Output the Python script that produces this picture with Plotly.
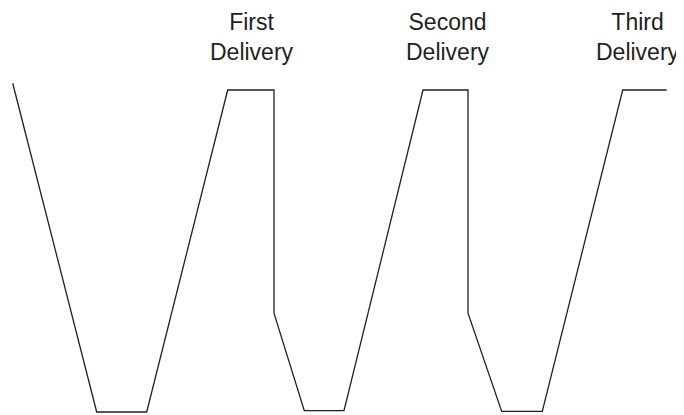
import plotly.graph_objects as go

# Inventory level over time (time in arbitrary units, inventory in % of max)
time = [12.7, 96.7, 146.7, 227.7, 274.0, 274.0, 304.3, 344.0, 423.0,
        468.0, 468.0, 501.7, 542.3, 622.7, 666.7]
inventory = [102.1, 0.0, 0.0, 100.0, 100.0, 30.7, 0.4, 0.4, 100.0,
             100.0, 30.7, 0.2, 0.2, 100.0, 100.0]

label_text = ["First<br>Delivery", "Second<br>Delivery", "Third<br>Delivery"]
label_time = [251.7, 448.3, 638.3]
label_level = [116.6, 116.6, 116.6]

fig = go.Figure()
fig.add_trace(go.Scatter(x=time, y=inventory, mode="lines",
                         line=dict(color="#231f20", width=1.3),
                         showlegend=False, hoverinfo="skip"))

for t, x, y in zip(label_text, label_time, label_level):
    fig.add_annotation(x=x, y=y, xref="x", yref="y", text=t, showarrow=False,
                       xanchor="center", yanchor="middle", align="center",
                       font=dict(family="Liberation Sans, Arial", size=23, color="#231f20"))

# page body has an 8px margin, so the figure is 8px smaller and ranges offset
fig.update_xaxes(range=[8, 684], visible=False, showgrid=False, zeroline=False)
fig.update_yaxes(range=[-0.93, 125.47], visible=False, showgrid=False, zeroline=False)
fig.update_layout(width=676, height=407, margin=dict(l=0, r=0, t=0, b=0),
                  plot_bgcolor="white", paper_bgcolor="white")

fig.write_html("out.html")
